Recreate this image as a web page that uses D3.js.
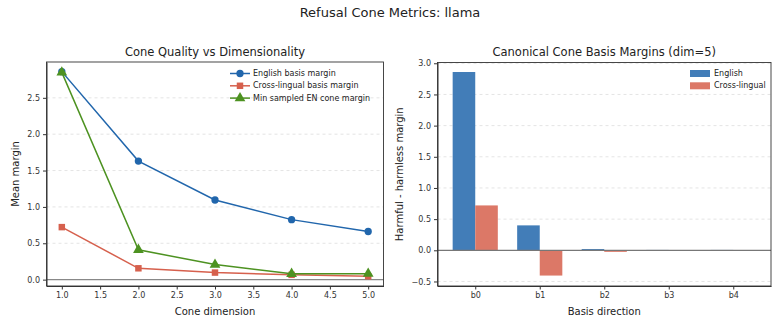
<!DOCTYPE html>
<html>
<head>
<meta charset="utf-8">
<style>
body { margin: 0; background: #fff; }
text { font-family: "DejaVu Sans", sans-serif; fill: #222; }
.axis text { font-size: 8px; fill: #333; }
.axis path, .axis line { stroke: #333; }
.grid line { stroke: #ddd; stroke-dasharray: 3,3; stroke-width: 0.8; }
</style>
<title>cone metrics</title>
<script src="https://cdn.jsdelivr.net/npm/d3@7"></script>
</head>
<body>
<svg width="780" height="325"></svg>
<script>

var dims = [1, 2, 3, 4, 5];
var englishMargin = [2.86, 1.63, 1.095, 0.825, 0.662];
var crossMargin = [0.722, 0.156, 0.097, 0.066, 0.046];
var minSampled = [2.85, 0.41, 0.207, 0.08, 0.082];
var xTicks = [1.0, 1.5, 2.0, 2.5, 3.0, 3.5, 4.0, 4.5, 5.0];

var basis = ["b0", "b1", "b2", "b3", "b4"];
var basisEnglish = [2.86, 0.40, 0.02, 0.006, 0.006];
var basisCross = [0.72, -0.405, -0.025, -0.006, -0.006];

var blue = "#2166ac", red = "#d6604d", green = "#4d9221";
var barBlue = "#427db8", barRed = "#dc7867";

var svg = d3.select("svg");

svg.append("text")
    .attr("x", 390).attr("y", 17)
    .attr("text-anchor", "middle")
    .style("font-size", "13px")
    .text("Refusal Cone Metrics: llama");

// ---- left panel
var L = {left: 46.5, right: 383.5, top: 62, bottom: 286};
var x1 = d3.scaleLinear().domain([0.8, 5.2]).range([L.left, L.right]);
var y1 = d3.scaleLinear().domain([-0.0875, 2.9925]).range([L.bottom, L.top]);

var g1 = svg.append("g");

g1.append("g").attr("class", "grid")
  .selectAll("line").data([0.5, 1.0, 1.5, 2.0, 2.5]).enter().append("line")
    .attr("x1", L.left).attr("x2", L.right)
    .attr("y1", function(d) { return y1(d); }).attr("y2", function(d) { return y1(d); });

g1.append("line")
    .attr("x1", L.left).attr("x2", L.right)
    .attr("y1", y1(0)).attr("y2", y1(0))
    .attr("stroke", "#888").attr("stroke-width", 1.2);

g1.append("g").attr("class", "axis")
    .attr("transform", "translate(0," + L.bottom + ")")
    .call(d3.axisBottom(x1).tickValues(xTicks).tickFormat(d3.format(".1f")).tickSize(3.5).tickSizeOuter(0));
g1.append("g").attr("class", "axis")
    .attr("transform", "translate(" + L.left + ",0)")
    .call(d3.axisLeft(y1).tickValues([0, 0.5, 1.0, 1.5, 2.0, 2.5]).tickFormat(d3.format(".1f")).tickSize(3.5).tickSizeOuter(0));

g1.append("rect")
    .attr("x", L.left).attr("y", L.top)
    .attr("width", L.right - L.left).attr("height", L.bottom - L.top)
    .attr("fill", "none").attr("stroke", "#333").attr("stroke-width", 0.9);

var series = [
  {name: "English basis margin", values: englishMargin, color: blue, marker: "circle"},
  {name: "Cross-lingual basis margin", values: crossMargin, color: red, marker: "square"},
  {name: "Min sampled EN cone margin", values: minSampled, color: green, marker: "triangle"}
];

var line = d3.line()
    .x(function(d, i) { return x1(dims[i]); })
    .y(function(d) { return y1(d); });

function marker(sel, type, color) {
  var sym = type == "circle" ? d3.symbolCircle : type == "square" ? d3.symbolSquare : d3.symbolTriangle;
  var size = type == "triangle" ? 50 : 42;
  sel.append("path")
    .attr("d", d3.symbol().type(sym).size(size)())
    .attr("fill", color);
}

series.forEach(function(s) {
  g1.append("path")
      .attr("d", line(s.values))
      .attr("fill", "none").attr("stroke", s.color).attr("stroke-width", 1.5);
  s.values.forEach(function(v, i) {
    var m = g1.append("g").attr("transform", "translate(" + x1(dims[i]) + "," + y1(v) + ")");
    marker(m, s.marker, s.color);
  });
});

var leg1 = g1.append("g").attr("transform", "translate(230,73.5)");
series.forEach(function(s, i) {
  var row = leg1.append("g").attr("transform", "translate(0," + (i * 12.3) + ")");
  row.append("line").attr("x1", 0).attr("x2", 20).attr("stroke", s.color).attr("stroke-width", 1.5);
  var m = row.append("g").attr("transform", "translate(10,0)");
  marker(m, s.marker, s.color);
  row.append("text").attr("x", 23).attr("dy", "0.33em").style("font-size", "8px").text(s.name);
});

svg.append("text")
    .attr("x", (L.left + L.right) / 2).attr("y", 56)
    .attr("text-anchor", "middle").style("font-size", "11.5px")
    .text("Cone Quality vs Dimensionality");
svg.append("text")
    .attr("x", (L.left + L.right) / 2).attr("y", 315)
    .attr("text-anchor", "middle").style("font-size", "10px")
    .text("Cone dimension");
svg.append("text")
    .attr("transform", "translate(19," + ((L.top + L.bottom) / 2) + ") rotate(-90)")
    .attr("text-anchor", "middle").style("font-size", "10px")
    .text("Mean margin");

// ---- right panel
var R = {left: 437.5, right: 771, top: 62.5, bottom: 286};
var x2 = d3.scaleLinear().domain([-0.585, 4.585]).range([R.left, R.right]);
var y2 = d3.scaleLinear().domain([-0.5725, 3.0125]).range([R.bottom, R.top]);
var bw = 0.35;

var g2 = svg.append("g");

g2.append("g").attr("class", "grid")
  .selectAll("line").data([-0.5, 0.5, 1.0, 1.5, 2.0, 2.5, 3.0]).enter().append("line")
    .attr("x1", R.left).attr("x2", R.right)
    .attr("y1", function(d) { return y2(d); }).attr("y2", function(d) { return y2(d); });

g2.selectAll(".barEn").data(basisEnglish).enter().append("rect")
    .attr("x", function(d, i) { return x2(i - bw); })
    .attr("width", x2(bw) - x2(0))
    .attr("y", function(d) { return y2(Math.max(0, d)); })
    .attr("height", function(d) { return Math.abs(y2(d) - y2(0)); })
    .attr("fill", barBlue);
g2.selectAll(".barCl").data(basisCross).enter().append("rect")
    .attr("x", function(d, i) { return x2(i); })
    .attr("width", x2(bw) - x2(0))
    .attr("y", function(d) { return y2(Math.max(0, d)); })
    .attr("height", function(d) { return Math.abs(y2(d) - y2(0)); })
    .attr("fill", barRed);

g2.append("line")
    .attr("x1", R.left).attr("x2", R.right)
    .attr("y1", y2(0)).attr("y2", y2(0))
    .attr("stroke", "#777").attr("stroke-width", 1.2);

g2.append("g").attr("class", "axis")
    .attr("transform", "translate(0," + R.bottom + ")")
    .call(d3.axisBottom(x2).tickValues(d3.range(basis.length)).tickFormat(function(i) { return basis[i]; }).tickSize(3.5).tickSizeOuter(0));
g2.append("g").attr("class", "axis")
    .attr("transform", "translate(" + R.left + ",0)")
    .call(d3.axisLeft(y2).tickValues([-0.5, 0, 0.5, 1.0, 1.5, 2.0, 2.5, 3.0])
      .tickFormat(function(d) { return d3.format(".1f")(d).replace("-", "\u2212"); }).tickSize(3.5).tickSizeOuter(0));

g2.append("rect")
    .attr("x", R.left).attr("y", R.top)
    .attr("width", R.right - R.left).attr("height", R.bottom - R.top)
    .attr("fill", "none").attr("stroke", "#333").attr("stroke-width", 0.9);

var leg2 = g2.append("g").attr("transform", "translate(690,73.5)");
[{t: "English", c: barBlue}, {t: "Cross-lingual", c: barRed}].forEach(function(e, i) {
  leg2.append("rect").attr("x", 0).attr("y", i * 12.3 - 3.5).attr("width", 20).attr("height", 7).attr("fill", e.c);
  leg2.append("text").attr("x", 24).attr("y", i * 12.3).attr("dy", "0.33em").style("font-size", "8px").text(e.t);
});

svg.append("text")
    .attr("x", (R.left + R.right) / 2).attr("y", 56)
    .attr("text-anchor", "middle").style("font-size", "11.5px")
    .text("Canonical Cone Basis Margins (dim=5)");
svg.append("text")
    .attr("x", (R.left + R.right) / 2).attr("y", 315)
    .attr("text-anchor", "middle").style("font-size", "10px")
    .text("Basis direction");
svg.append("text")
    .attr("transform", "translate(403," + ((R.top + R.bottom) / 2) + ") rotate(-90)")
    .attr("text-anchor", "middle").style("font-size", "10px")
    .text("Harmful - harmless margin");

</script>
</body>
</html>
